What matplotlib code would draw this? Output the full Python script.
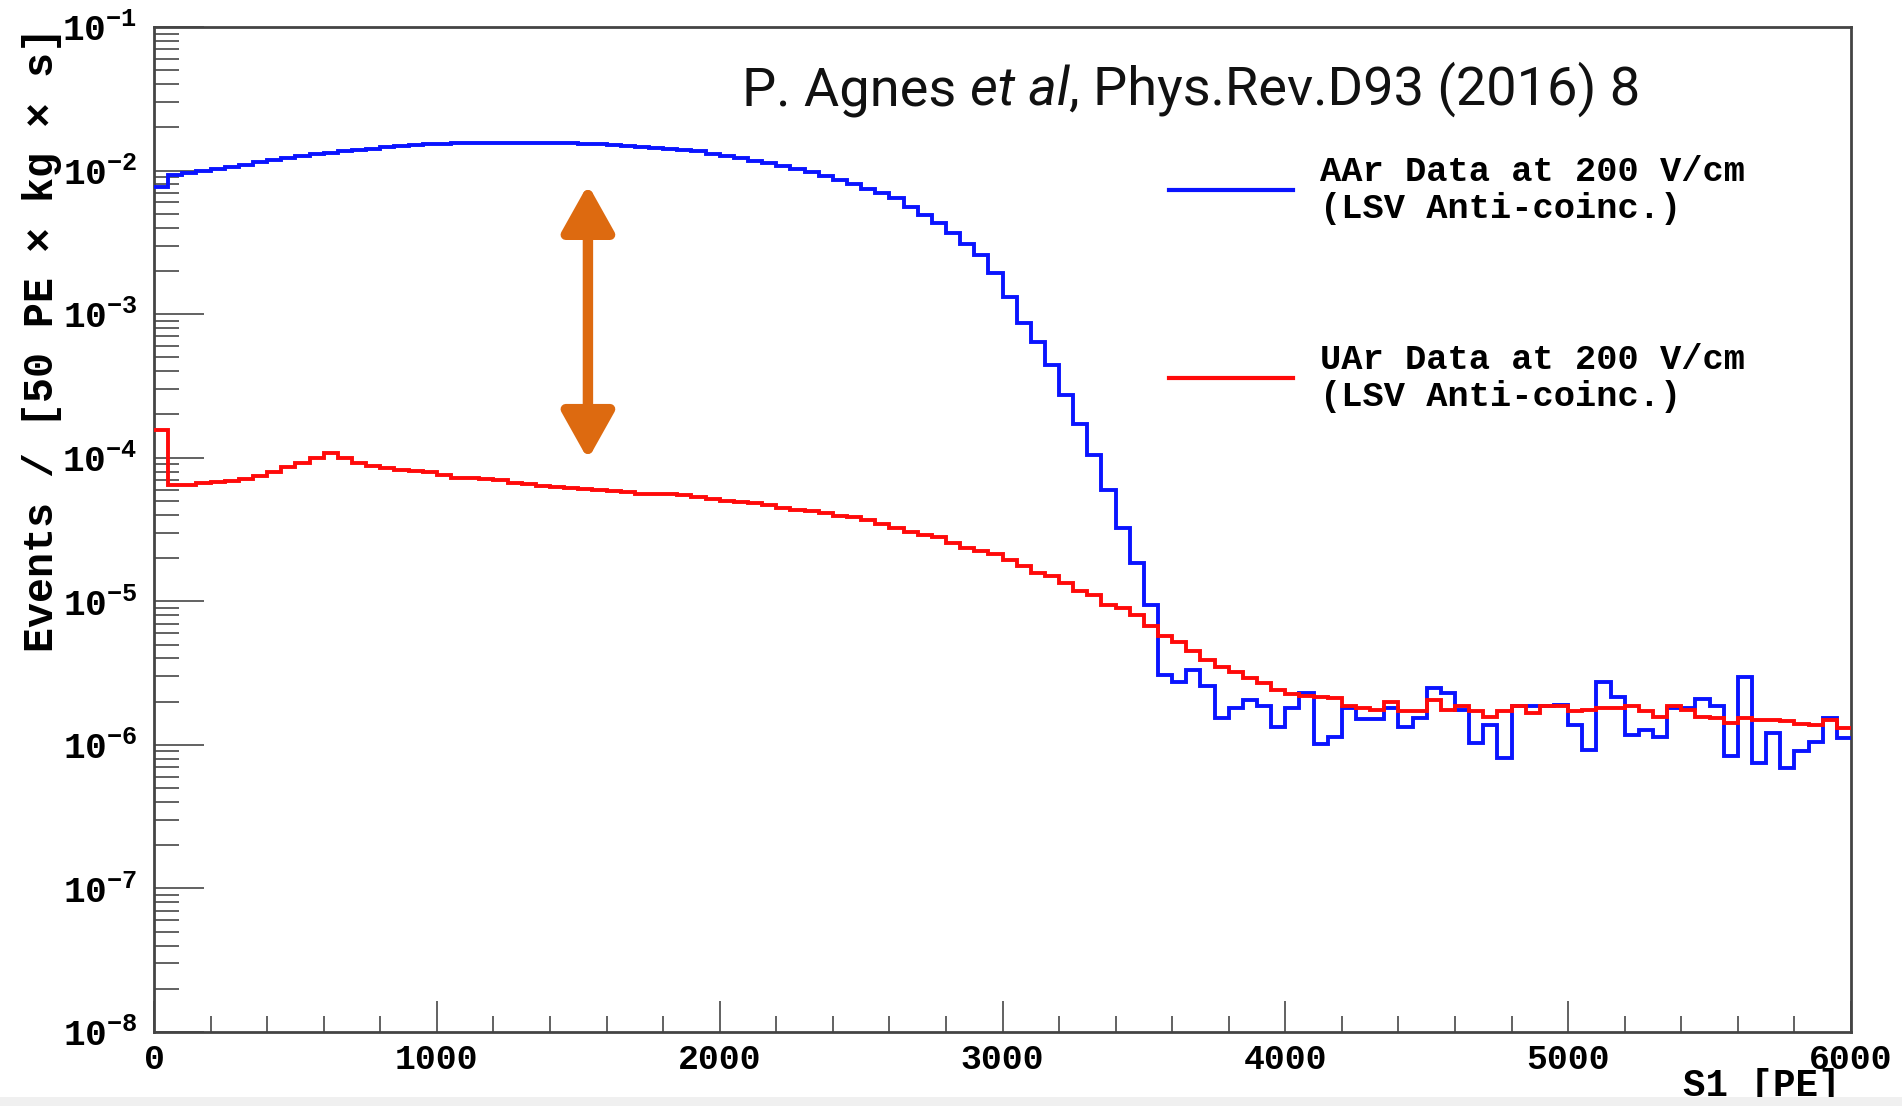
import numpy as np
import matplotlib
matplotlib.use("Agg")
import matplotlib.pyplot as plt
from matplotlib.ticker import FixedLocator, FuncFormatter, NullFormatter
from matplotlib.lines import Line2D
from matplotlib.patches import FancyArrowPatch, Rectangle

# ---------------- data ----------------
bin_width = 50
bin_edges = np.arange(0, 6000 + bin_width, bin_width)

aar_counts = [
    7.7e-3, 9.3e-3, 9.6e-3, 9.9e-3, 1.03e-2, 1.06e-2, 1.10e-2, 1.15e-2, 1.19e-2, 1.23e-2,
    1.27e-2, 1.30e-2, 1.33e-2, 1.36e-2, 1.39e-2, 1.42e-2, 1.45e-2, 1.48e-2, 1.51e-2, 1.53e-2,
    1.54e-2, 1.55e-2, 1.56e-2, 1.56e-2, 1.56e-2, 1.56e-2, 1.56e-2, 1.55e-2, 1.55e-2, 1.55e-2,
    1.54e-2, 1.53e-2, 1.50e-2, 1.48e-2, 1.45e-2, 1.43e-2, 1.42e-2, 1.40e-2, 1.36e-2, 1.31e-2,
    1.27e-2, 1.22e-2, 1.17e-2, 1.13e-2, 1.07e-2, 1.02e-2, 9.7e-3, 9.1e-3, 8.6e-3, 8.0e-3,
    7.5e-3, 7.0e-3, 6.4e-3, 5.6e-3, 4.9e-3, 4.3e-3, 3.7e-3, 3.1e-3, 2.6e-3, 1.95e-3,
    1.32e-3, 8.7e-4, 6.4e-4, 4.4e-4, 2.74e-4, 1.72e-4, 1.05e-4, 6.0e-5, 3.26e-5, 1.86e-5,
    9.4e-6, 3.07e-6, 2.76e-6, 3.33e-6, 2.55e-6, 1.53e-6, 1.80e-6, 2.06e-6, 1.85e-6, 1.34e-6,
    1.80e-6, 2.29e-6, 1.02e-6, 1.14e-6, 1.80e-6, 1.51e-6, 1.51e-6, 1.80e-6, 1.34e-6, 1.53e-6,
    2.48e-6, 2.29e-6, 1.75e-6, 1.03e-6, 1.38e-6, 8.1e-7, 1.85e-6, 1.85e-6, 1.85e-6, 1.90e-6,
    1.38e-6, 9.2e-7, 2.76e-6, 2.17e-6, 1.17e-6, 1.27e-6, 1.14e-6, 1.80e-6, 1.80e-6, 2.08e-6,
    1.85e-6, 8.3e-7, 2.96e-6, 7.5e-7, 1.21e-6, 6.9e-7, 9.0e-7, 1.05e-6, 1.53e-6, 1.11e-6,
]

uar_counts = [
    1.56e-4, 6.46e-5, 6.5e-5, 6.7e-5, 6.8e-5, 6.9e-5, 7.1e-5, 7.4e-5, 8.0e-5, 8.6e-5,
    9.2e-5, 1.0e-4, 1.07e-4, 1.0e-4, 9.2e-5, 8.8e-5, 8.5e-5, 8.2e-5, 8.1e-5, 8.0e-5,
    7.6e-5, 7.2e-5, 7.2e-5, 7.1e-5, 7.0e-5, 6.7e-5, 6.6e-5, 6.4e-5, 6.3e-5, 6.2e-5,
    6.1e-5, 6.0e-5, 5.9e-5, 5.8e-5, 5.6e-5, 5.6e-5, 5.55e-5, 5.5e-5, 5.3e-5, 5.15e-5,
    5.0e-5, 4.9e-5, 4.8e-5, 4.65e-5, 4.5e-5, 4.35e-5, 4.25e-5, 4.1e-5, 3.95e-5, 3.85e-5,
    3.7e-5, 3.45e-5, 3.25e-5, 3.05e-5, 2.9e-5, 2.8e-5, 2.55e-5, 2.35e-5, 2.25e-5, 2.12e-5,
    1.94e-5, 1.75e-5, 1.57e-5, 1.49e-5, 1.34e-5, 1.17e-5, 1.11e-5, 9.4e-6, 8.95e-6, 8.0e-6,
    6.7e-6, 5.7e-6, 5.2e-6, 4.47e-6, 3.9e-6, 3.5e-6, 3.24e-6, 2.91e-6, 2.69e-6, 2.42e-6,
    2.27e-6, 2.19e-6, 2.15e-6, 2.12e-6, 1.85e-6, 1.8e-6, 1.76e-6, 2.0e-6, 1.71e-6, 1.71e-6,
    2.06e-6, 1.75e-6, 1.85e-6, 1.71e-6, 1.57e-6, 1.71e-6, 1.85e-6, 1.68e-6, 1.85e-6, 1.85e-6,
    1.71e-6, 1.75e-6, 1.8e-6, 1.8e-6, 1.85e-6, 1.71e-6, 1.57e-6, 1.85e-6, 1.75e-6, 1.57e-6,
    1.53e-6, 1.42e-6, 1.53e-6, 1.49e-6, 1.48e-6, 1.47e-6, 1.40e-6, 1.38e-6, 1.49e-6, 1.31e-6,
]

x_ticks = [0, 1000, 2000, 3000, 4000, 5000, 6000]
y_decades = [-8, -7, -6, -5, -4, -3, -2, -1]
legend_labels = [("AAr Data at 200 V/cm", "(LSV Anti-coinc.)"),
                 ("UAr Data at 200 V/cm", "(LSV Anti-coinc.)")]
citation = ["P. Agnes ", "et al", ", Phys.Rev.D93 (2016) 8"]

# ---------------- style ----------------
MONO = "Liberation Mono"
plt.rcParams["mathtext.fontset"] = "custom"
plt.rcParams["mathtext.rm"] = "Liberation Mono:bold"
plt.rcParams["mathtext.bf"] = "Liberation Mono:bold"
plt.rcParams["mathtext.it"] = "Liberation Mono:bold"
plt.rcParams["mathtext.default"] = "rm"

BLUE = "#0a14ff"
RED = "#ff0a0a"

fig = plt.figure(figsize=(19.02, 11.06), dpi=100)
fig.patch.set_facecolor("white")
ax = fig.add_axes([154 / 1902, 74 / 1106, 1697 / 1902, 1005 / 1106])

ax.stairs(aar_counts, bin_edges, baseline=None, color=BLUE, linewidth=2.8, zorder=3)
ax.stairs(uar_counts, bin_edges, baseline=None, color=RED, linewidth=2.8, zorder=4)

ax.set_yscale("log")
ax.set_xlim(0, 6000)
ax.set_ylim(1e-8, 1e-1)

# ticks
ax.xaxis.set_major_locator(FixedLocator(x_ticks))
ax.xaxis.set_minor_locator(FixedLocator(np.arange(0, 6001, 200)))
ax.yaxis.set_major_locator(FixedLocator([10.0 ** d for d in y_decades]))
minors = [m * 10.0 ** d for d in y_decades[:-1] for m in range(2, 10)]
ax.yaxis.set_minor_locator(FixedLocator(minors))
ax.yaxis.set_minor_formatter(NullFormatter())
ax.yaxis.set_major_formatter(FuncFormatter(lambda v, p: r"$10^{%d}$" % int(round(np.log10(v)))))
ax.xaxis.set_major_formatter(FuncFormatter(lambda v, p: "%d" % v))

tick_col = "#555555"
ax.tick_params(axis="both", which="both", direction="in", colors=tick_col, width=1.3,
               top=False, right=False)
ax.tick_params(axis="y", which="major", length=36, pad=12, labelsize=26, labelcolor="black")
ax.tick_params(axis="y", which="minor", length=18)
ax.tick_params(axis="x", which="major", length=22, pad=8, labelsize=25, labelcolor="black")
ax.tick_params(axis="x", which="minor", length=11.5)
for lab in ax.get_xticklabels():
    lab.set_fontfamily(MONO)
    lab.set_fontweight("bold")

for s in ax.spines.values():
    s.set_color("#444444")
    s.set_linewidth(2.0)

# axis titles
ax.text(-0.066, 1.0, "Events / [50 PE × kg × s]", transform=ax.transAxes, rotation=90,
        ha="center", va="top", fontsize=30, fontfamily=MONO, fontweight="bold")
ax.text(0.994, -0.054, "S1 [PE]", transform=ax.transAxes, ha="right", va="center",
        fontsize=27, fontfamily=MONO, fontweight="bold")

# legend (drawn manually, ROOT style, no frame)
leg_colors = [BLUE, RED]
leg_line_y = [0.838, 0.651]
for (l1, l2), c, ly in zip(legend_labels, leg_colors, leg_line_y):
    ax.add_line(Line2D([0.598, 0.671], [ly, ly], transform=ax.transAxes, color=c, linewidth=3.0))
    ax.text(0.687, ly + 0.018, l1, transform=ax.transAxes, ha="left", va="center",
            fontsize=25.5, fontfamily=MONO, fontweight="bold")
    ax.text(0.687, ly - 0.019, l2, transform=ax.transAxes, ha="left", va="center",
            fontsize=25.5, fontfamily=MONO, fontweight="bold")

# citation text
cite_fam = ["Roboto", "DejaVu Sans"]
cite_kw = dict(fontsize=39, family=cite_fam, fontweight="normal", color="#111111")
t1 = ax.text(0.3465, 0.936, citation[0], transform=ax.transAxes, ha="left", va="center",
             **cite_kw)
fig.canvas.draw()
r = fig.canvas.get_renderer()
bb = t1.get_window_extent(r)
t2 = ax.annotate(citation[1], xy=(bb.x1, bb.y0), xycoords="figure pixels", va="bottom",
                 ha="left", style="italic", **cite_kw)
bb2 = t2.get_window_extent(r)
ax.annotate(citation[2], xy=(bb2.x1, bb.y0), xycoords="figure pixels", va="bottom",
            ha="left", **cite_kw)

# orange double arrow
arr = FancyArrowPatch((0.2557, 0.846), (0.2557, 0.567), transform=ax.transAxes,
                      arrowstyle="<|-|>,head_length=0.75,head_width=0.42",
                      mutation_scale=38, color="#dd6a10", linewidth=7.5, zorder=5)
ax.add_patch(arr)

# light grey band at bottom of the image
fig.patches.append(Rectangle((0, 0), 1, 9 / 1106, transform=fig.transFigure,
                             facecolor="#f0f0f0", edgecolor="none", zorder=10))

fig.savefig("out.png", dpi=100)
